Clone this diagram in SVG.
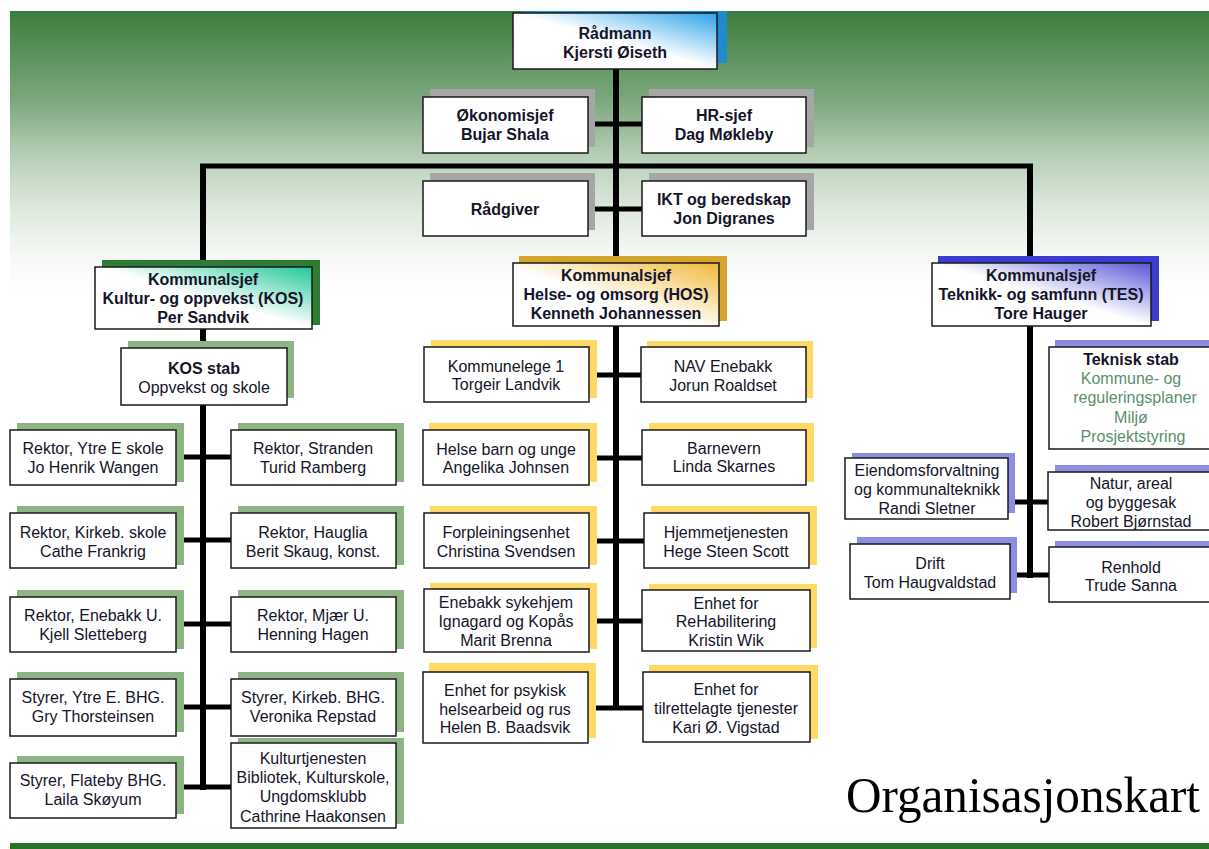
<svg xmlns="http://www.w3.org/2000/svg" width="1209" height="849" viewBox="0 0 1209 849">
<defs>
<linearGradient id="bg" x1="0" y1="0" x2="0" y2="1">
<stop offset="0" stop-color="#3b7e3c"/>
<stop offset="0.33" stop-color="#80a981"/>
<stop offset="0.52" stop-color="#b7cfb7"/>
<stop offset="0.7" stop-color="#dde8dd"/>
<stop offset="0.88" stop-color="#f6f9f6"/>
<stop offset="1" stop-color="#ffffff"/>
</linearGradient>
<linearGradient id="gBlue" x1="0" y1="1" x2="1" y2="0">
<stop offset="0" stop-color="#ffffff"/>
<stop offset="0.5" stop-color="#ffffff"/>
<stop offset="1" stop-color="#2aa2e8"/>
</linearGradient>
<linearGradient id="gGreen" x1="0" y1="1" x2="1" y2="0">
<stop offset="0" stop-color="#ffffff"/>
<stop offset="0.5" stop-color="#ffffff"/>
<stop offset="1" stop-color="#1fc897"/>
</linearGradient>
<linearGradient id="gGold" x1="0" y1="1" x2="1" y2="0">
<stop offset="0" stop-color="#ffffff"/>
<stop offset="0.45" stop-color="#ffffff"/>
<stop offset="1" stop-color="#f0b838"/>
</linearGradient>
<linearGradient id="gViolet" x1="0" y1="1" x2="1" y2="0">
<stop offset="0" stop-color="#ffffff"/>
<stop offset="0.5" stop-color="#ffffff"/>
<stop offset="1" stop-color="#5656d8"/>
</linearGradient>
<style>
.box{stroke:#1a1a1a;stroke-width:1.5;fill:#fff}
.sGray{fill:#a6a6a6}
.sBlue{fill:#1e8ccc}
.sKos{fill:#2e7d32}
.sKosSub{fill:#8db583}
.sHos{fill:#d4a52a}
.sHosSub{fill:#ffd966}
.sTes{fill:#3b3bd0}
.sTesSub{fill:#8c8ce0}
text{font-family:"Liberation Sans",Arial,sans-serif;font-size:16px;fill:#14142a;text-anchor:middle}
.b{font-weight:bold}
.gr{fill:#5b8f6e}
.ln{stroke:#000;fill:none}
.v{stroke-width:6}
.h{stroke-width:5}
.title{font-family:"Liberation Serif","Times New Roman",serif;font-size:50px;fill:#000;text-anchor:start}
</style>
</defs>
<rect x="10" y="11" width="1199" height="280" fill="url(#bg)"/>
<rect x="10" y="843" width="1199" height="6" fill="#267526"/>

<g id="connectors">
<line class="ln v" x1="616" y1="69" x2="616" y2="708"/>
<line class="ln h" x1="588" y1="124" x2="642" y2="124"/>
<line class="ln h" x1="588" y1="209" x2="642" y2="209"/>
<line class="ln h" x1="200" y1="166" x2="1033" y2="166"/>
<line class="ln v" x1="203" y1="164" x2="203" y2="790"/>
<line class="ln v" x1="1030" y1="164" x2="1030" y2="578"/>
<line class="ln h" x1="176" y1="457" x2="231" y2="457"/>
<line class="ln h" x1="176" y1="540" x2="231" y2="540"/>
<line class="ln h" x1="176" y1="624" x2="231" y2="624"/>
<line class="ln h" x1="176" y1="707" x2="231" y2="707"/>
<line class="ln h" x1="176" y1="787" x2="231" y2="787"/>
<line class="ln h" x1="589" y1="375" x2="641" y2="375"/>
<line class="ln h" x1="589" y1="458" x2="642" y2="458"/>
<line class="ln h" x1="589" y1="541" x2="644" y2="541"/>
<line class="ln h" x1="589" y1="621" x2="642" y2="621"/>
<line class="ln h" x1="588" y1="708" x2="643" y2="708"/>
<line class="ln h" x1="1008" y1="502" x2="1048" y2="502"/>
<line class="ln h" x1="1010" y1="575" x2="1049" y2="575"/>
</g>

<g id="radmann">
<rect class="sBlue" x="523" y="11" width="204" height="52"/>
<rect class="box" x="513" y="13" width="204" height="56" style="fill:url(#gBlue)"/>
<text class="b" x="615" y="38.5">Rådmann</text>
<text class="b" x="615" y="57.5">Kjersti Øiseth</text>
</g>

<g id="okonomisjef">
<rect class="sGray" x="430" y="89" width="165" height="58"/>
<rect class="box" x="423" y="97" width="165" height="56"/>
<text class="b" x="505" y="120.5">Økonomisjef</text>
<text class="b" x="505" y="139.5">Bujar Shala</text>
</g>
<g id="hrsjef">
<rect class="sGray" x="649" y="89" width="165" height="58"/>
<rect class="box" x="642" y="97" width="164" height="56"/>
<text class="b" x="724" y="120.5">HR-sjef</text>
<text class="b" x="724" y="139.5">Dag Møkleby</text>
</g>
<g id="radgiver">
<rect class="sGray" x="430" y="173" width="165" height="57"/>
<rect class="box" x="423" y="181" width="165" height="55"/>
<text class="b" x="505" y="214.5">Rådgiver</text>
</g>
<g id="ikt">
<rect class="sGray" x="649" y="173" width="165" height="57"/>
<rect class="box" x="642" y="181" width="164" height="55"/>
<text class="b" x="724" y="204.5">IKT og beredskap</text>
<text class="b" x="724" y="223.5">Jon Digranes</text>
</g>

<g id="kos">
<rect class="sKos" x="102" y="260" width="218" height="65"/>
<rect class="box" x="95" y="267" width="217" height="62" style="fill:url(#gGreen)"/>
<text class="b" x="203" y="284.5">Kommunalsjef</text>
<text class="b" x="203" y="303.5">Kultur- og oppvekst (KOS)</text>
<text class="b" x="203" y="322.5">Per Sandvik</text>
</g>
<g id="hos">
<rect class="sHos" x="519" y="256" width="208" height="65"/>
<rect class="box" x="513" y="263" width="206" height="63" style="fill:url(#gGold)"/>
<text class="b" x="616" y="280.5">Kommunalsjef</text>
<text class="b" x="616" y="299.5">Helse- og omsorg (HOS)</text>
<text class="b" x="616" y="318.5">Kenneth Johannessen</text>
</g>
<g id="tes">
<rect class="sTes" x="938" y="256" width="221" height="65"/>
<rect class="box" x="932" y="263" width="219" height="63" style="fill:url(#gViolet)"/>
<text class="b" x="1041" y="280.5">Kommunalsjef</text>
<text class="b" x="1041" y="299.5">Teknikk- og samfunn (TES)</text>
<text class="b" x="1041" y="318.5">Tore Hauger</text>
</g>

<g id="kosstab">
<rect class="sKosSub" x="128" y="341" width="166" height="57"/>
<rect class="box" x="121" y="348" width="166" height="57"/>
<text class="b" x="204" y="373.5">KOS stab</text>
<text x="204" y="392.5">Oppvekst og skole</text>
</g>

<g id="ytreE">
<rect class="sKosSub" x="17" y="423" width="167" height="59"/>
<rect class="box" x="10" y="430" width="166" height="55"/>
<text x="93" y="453.5">Rektor, Ytre E skole</text>
<text x="93" y="472.5">Jo Henrik Wangen</text>
</g>
<g id="stranden">
<rect class="sKosSub" x="238" y="423" width="166" height="59"/>
<rect class="box" x="231" y="430" width="165" height="55"/>
<text x="313" y="453.5">Rektor, Stranden</text>
<text x="313" y="472.5">Turid Ramberg</text>
</g>
<g id="kirkeb">
<rect class="sKosSub" x="17" y="506" width="167" height="59"/>
<rect class="box" x="10" y="513" width="166" height="55"/>
<text x="93" y="537.5">Rektor, Kirkeb. skole</text>
<text x="93" y="556.5">Cathe Frankrig</text>
</g>
<g id="hauglia">
<rect class="sKosSub" x="238" y="506" width="166" height="59"/>
<rect class="box" x="231" y="513" width="165" height="55"/>
<text x="313" y="537.5">Rektor, Hauglia</text>
<text x="313" y="556.5">Berit Skaug, konst.</text>
</g>
<g id="enebakkU">
<rect class="sKosSub" x="17" y="590" width="167" height="59"/>
<rect class="box" x="10" y="597" width="166" height="55"/>
<text x="93" y="620.5">Rektor, Enebakk U.</text>
<text x="93" y="639.5">Kjell Sletteberg</text>
</g>
<g id="mjaer">
<rect class="sKosSub" x="238" y="590" width="166" height="59"/>
<rect class="box" x="231" y="597" width="165" height="55"/>
<text x="313" y="620.5">Rektor, Mjær U.</text>
<text x="313" y="639.5">Henning Hagen</text>
</g>
<g id="ytreEbhg">
<rect class="sKosSub" x="17" y="672" width="167" height="60"/>
<rect class="box" x="10" y="679" width="166" height="57"/>
<text x="93" y="702.5">Styrer, Ytre E. BHG.</text>
<text x="93" y="721.5">Gry Thorsteinsen</text>
</g>
<g id="kirkebbhg">
<rect class="sKosSub" x="238" y="672" width="166" height="60"/>
<rect class="box" x="231" y="679" width="165" height="57"/>
<text x="313" y="702.5">Styrer, Kirkeb. BHG.</text>
<text x="313" y="721.5">Veronika Repstad</text>
</g>
<g id="flateby">
<rect class="sKosSub" x="17" y="756" width="167" height="58"/>
<rect class="box" x="10" y="763" width="166" height="55"/>
<text x="93" y="785.5">Styrer, Flateby BHG.</text>
<text x="93" y="804.5">Laila Skøyum</text>
</g>
<g id="kultur">
<rect class="sKosSub" x="238" y="738" width="166" height="86"/>
<rect class="box" x="231" y="743" width="165" height="85"/>
<text x="313" y="763.5">Kulturtjenesten</text>
<text x="313" y="782.5">Bibliotek, Kulturskole,</text>
<text x="313" y="802">Ungdomsklubb</text>
<text x="313" y="821.5">Cathrine Haakonsen</text>
</g>

<g id="kommunelege">
<rect class="sHosSub" x="431" y="340" width="166" height="58"/>
<rect class="box" x="424" y="347" width="165" height="55"/>
<text x="506" y="371.5">Kommunelege 1</text>
<text x="506" y="389.5">Torgeir Landvik</text>
</g>
<g id="nav">
<rect class="sHosSub" x="647" y="341" width="166" height="57"/>
<rect class="box" x="641" y="347" width="165" height="55"/>
<text x="723" y="371.5">NAV Enebakk</text>
<text x="723" y="390.5">Jorun Roaldset</text>
</g>
<g id="helsebarn">
<rect class="sHosSub" x="429" y="423" width="168" height="59"/>
<rect class="box" x="423" y="430" width="166" height="55"/>
<text x="506" y="454.5">Helse barn og unge</text>
<text x="506" y="472.5">Angelika Johnsen</text>
</g>
<g id="barnevern">
<rect class="sHosSub" x="649" y="423" width="165" height="59"/>
<rect class="box" x="642" y="430" width="164" height="55"/>
<text x="724" y="453.5">Barnevern</text>
<text x="724" y="471.5">Linda Skarnes</text>
</g>
<g id="forpleining">
<rect class="sHosSub" x="430" y="506" width="167" height="59"/>
<rect class="box" x="424" y="513" width="165" height="55"/>
<text x="506" y="537.5">Forpleiningsenhet</text>
<text x="506" y="556.5">Christina Svendsen</text>
</g>
<g id="hjemme">
<rect class="sHosSub" x="651" y="506" width="166" height="59"/>
<rect class="box" x="644" y="513" width="165" height="55"/>
<text x="726" y="537.5">Hjemmetjenesten</text>
<text x="726" y="556.5">Hege Steen Scott</text>
</g>
<g id="sykehjem">
<rect class="sHosSub" x="430" y="583" width="167" height="66"/>
<rect class="box" x="424" y="589" width="165" height="63"/>
<text x="506" y="607.5">Enebakk sykehjem</text>
<text x="506" y="626.5">Ignagard og Kopås</text>
<text x="506" y="645.5">Marit Brenna</text>
</g>
<g id="rehab">
<rect class="sHosSub" x="649" y="584" width="168" height="64"/>
<rect class="box" x="642" y="590" width="168" height="61"/>
<text x="726" y="608.5">Enhet for</text>
<text x="726" y="626.5">ReHabilitering</text>
<text x="726" y="645.5">Kristin Wik</text>
</g>
<g id="psykisk">
<rect class="sHosSub" x="429" y="663" width="167" height="75"/>
<rect class="box" x="423" y="672" width="165" height="71"/>
<text x="505" y="695.5">Enhet for psykisk</text>
<text x="505" y="714.5">helsearbeid og rus</text>
<text x="505" y="732.5">Helen B. Baadsvik</text>
</g>
<g id="tilrettelagte">
<rect class="sHosSub" x="649" y="665" width="169" height="74"/>
<rect class="box" x="643" y="672" width="167" height="70"/>
<text x="726" y="694.5">Enhet for</text>
<text x="726" y="713.5">tilrettelagte tjenester</text>
<text x="726" y="732.5">Kari Ø. Vigstad</text>
</g>

<g id="tekniskstab">
<rect class="sTesSub" x="1055" y="340" width="170" height="104"/>
<rect class="box" x="1049" y="347" width="175" height="102"/>
<text class="b" x="1131" y="364.5">Teknisk stab</text>
<text class="gr" x="1131" y="384">Kommune- og</text>
<text class="gr" x="1135" y="403">reguleringsplaner</text>
<text class="gr" x="1131" y="422.5">Miljø</text>
<text class="gr" x="1133" y="442">Prosjektstyring</text>
</g>
<g id="eiendom">
<rect class="sTesSub" x="852" y="453" width="163" height="60"/>
<rect class="box" x="845" y="458" width="163" height="61"/>
<text x="927" y="475.5">Eiendomsforvaltning</text>
<text x="927" y="494.5">og kommunalteknikk</text>
<text x="927" y="513.5">Randi Sletner</text>
</g>
<g id="natur">
<rect class="sTesSub" x="1055" y="465" width="170" height="60"/>
<rect class="box" x="1048" y="472" width="176" height="58"/>
<text x="1131" y="488.5">Natur, areal</text>
<text x="1131" y="508">og byggesak</text>
<text x="1131" y="526.5">Robert Bjørnstad</text>
</g>
<g id="drift">
<rect class="sTesSub" x="857" y="537" width="160" height="56"/>
<rect class="box" x="850" y="544" width="160" height="55"/>
<text x="930" y="568.5">Drift</text>
<text x="930" y="587.5">Tom Haugvaldstad</text>
</g>
<g id="renhold">
<rect class="sTesSub" x="1055" y="541" width="170" height="56"/>
<rect class="box" x="1049" y="547" width="175" height="55"/>
<text x="1131" y="572.5">Renhold</text>
<text x="1131" y="590.5">Trude Sanna</text>
</g>

<text class="title" x="846" y="812" textLength="354" lengthAdjust="spacingAndGlyphs">Organisasjonskart</text>
</svg>
